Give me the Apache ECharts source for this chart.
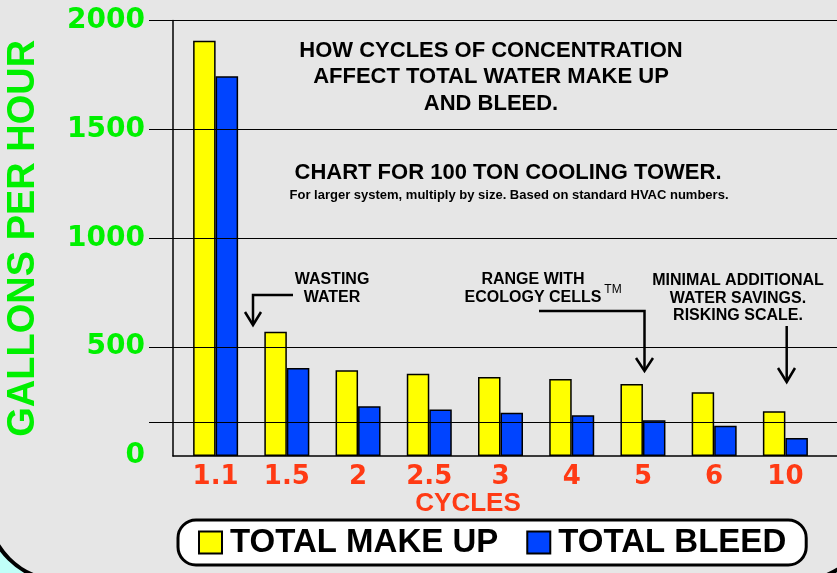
<!DOCTYPE html>
<html>
<head>
<meta charset="utf-8">
<title>Cycles of concentration</title>
<script src="https://cdn.jsdelivr.net/npm/echarts@6/dist/echarts.min.js"></script>
<style>
  html, body { margin: 0; padding: 0; background: #c0fff8; }
  #main { width: 837px; height: 573px; }
</style>
</head>
<body>
<div id="main"></div>
<script>
// values (gallons per hour, 100 ton tower)
var cycles = ['1.1', '1.5', '2', '2.5', '3', '4', '5', '6', '10']
var makeUp = [1907, 571, 394, 378, 363, 354, 331, 293, 205]
var bleed = [1744, 404, 228, 213, 199, 187, 164, 139, 83]
var seriesNames = ['TOTAL MAKE UP', 'TOTAL BLEED']
var yMin = 0
var yMax = 2000
var yStep = 500
var extraLine = 155

var green = '#00f000'
var red = '#ff3a14'
var ink = '#000'
var arial = '"Liberation Sans", Arial, sans-serif'
var heavy = '"DejaVu Sans", sans-serif'

function txt (s, x, y, size, weight, color) {
  return {
    type: 'text',
    z: 100,
    style: {
      text: s,
      x: x,
      y: y,
      fill: color || ink,
      align: 'center',
      verticalAlign: 'middle',
      font: (weight || 'bold') + ' ' + size + 'px ' + arial
    }
  }
}

function line (points) {
  return {
    type: 'polyline',
    z: 100,
    shape: { points: points },
    style: { stroke: ink, lineWidth: 2.5, fill: null }
  }
}

var myChart = echarts.init(document.getElementById('main'))

var gridBox = { top: 20.5, bottom: 117, outerBoundsMode: 'none' }

myChart.setOption({
  backgroundColor: '#c0fff8',
  animation: false,
  grid: [
    Object.assign({ left: 180, right: 16 }, gridBox), // bars
    Object.assign({ left: 149, right: -20 }, gridBox), // grid lines and labels
    Object.assign({ left: 173, right: -20 }, gridBox) // axis lines
  ],
  xAxis: [
    {
      gridIndex: 0,
      type: 'category',
      data: cycles,
      axisLine: { show: false },
      axisTick: { show: false },
      axisLabel: {
        color: red,
        fontFamily: heavy,
        fontWeight: 'bold',
        fontSize: 26,
        margin: 8
      }
    },
    { gridIndex: 1, type: 'value', min: 0, max: 1, show: false },
    {
      gridIndex: 2,
      type: 'value',
      min: 0,
      max: 1,
      z: 10,
      axisLine: { show: true, lineStyle: { color: ink, width: 1.5 } },
      axisTick: { show: false },
      axisLabel: { show: false },
      splitLine: { show: false }
    }
  ],
  yAxis: [
    { gridIndex: 0, type: 'value', min: yMin, max: yMax, interval: yStep, show: false },
    {
      gridIndex: 1,
      type: 'value',
      min: yMin,
      max: yMax,
      interval: yStep,
      z: 10,
      axisLine: { show: false },
      axisTick: { show: false },
      splitLine: {
        show: true,
        lineStyle: { color: ['rgba(0,0,0,0)', ink, ink, ink, ink], width: 1.2 }
      },
      axisLabel: {
        color: green,
        fontFamily: heavy,
        fontWeight: 'bold',
        fontSize: 28,
        margin: 4,
        formatter: function (v) { return String(v) }
      },
      name: 'GALLONS PER HOUR',
      nameLocation: 'middle',
      nameGap: 106,
      nameTextStyle: {
        color: green,
        fontFamily: arial,
        fontWeight: 'bold',
        fontSize: 38
      }
    },
    {
      gridIndex: 2,
      type: 'value',
      min: yMin,
      max: yMax,
      interval: yStep,
      z: 10,
      axisLine: { show: true, lineStyle: { color: ink, width: 1.5 } },
      axisTick: { show: false },
      axisLabel: { show: false },
      splitLine: { show: false }
    }
  ],
  legend: {
    data: seriesNames,
    left: 178,
    top: 520,
    icon: 'rect',
    itemWidth: 23,
    itemHeight: 22,
    itemGap: 28,
    backgroundColor: '#fff',
    borderColor: '#000',
    borderWidth: 3,
    borderRadius: 18,
    padding: [6, 20, 6, 20],
    textStyle: {
      color: '#000',
      fontFamily: arial,
      fontWeight: 'bold',
      fontSize: 33,
      padding: [0, 0, 0, 3]
    }
  },
  series: [
    {
      name: seriesNames[0],
      type: 'bar',
      xAxisIndex: 0,
      yAxisIndex: 0,
      barWidth: 22.5,
      barGap: '0%',
      itemStyle: { color: '#ffff00', borderColor: ink, borderWidth: 1.5 },
      data: makeUp
    },
    {
      name: seriesNames[1],
      type: 'bar',
      xAxisIndex: 0,
      yAxisIndex: 0,
      barWidth: 22.5,
      barGap: '0%',
      itemStyle: { color: '#0044ff', borderColor: ink, borderWidth: 1.5 },
      data: bleed
    },
    {
      // unlabeled reference line near the bottom
      name: 'guide',
      type: 'line',
      xAxisIndex: 1,
      yAxisIndex: 1,
      z: 10,
      symbol: 'none',
      lineStyle: { opacity: 0 },
      data: [[0, 0]],
      markLine: {
        silent: true,
        symbol: 'none',
        label: { show: false },
        lineStyle: { color: ink, width: 1.2, type: 'solid' },
        data: [{ yAxis: extraLine }]
      }
    }
  ],
  graphic: [
    {
      type: 'rect',
      z: -100,
      shape: { x: -12, y: -100, width: 884, height: 680, r: 72 },
      style: { fill: '#e6e6e6', stroke: '#000', lineWidth: 4 }
    },
    txt('HOW CYCLES OF CONCENTRATION', 491, 51, 22),
    txt('AFFECT TOTAL WATER MAKE UP', 491, 77, 22),
    txt('AND BLEED.', 491, 104, 22),
    txt('CHART FOR 100 TON COOLING TOWER.', 508, 173, 22),
    txt('For larger system, multiply by size. Based on standard HVAC numbers.', 509, 195, 13),
    txt('CYCLES', 468, 504, 26, 'bold', red),
    txt('WASTING', 332, 280, 16),
    txt('WATER', 332, 298, 16),
    txt('RANGE WITH', 533, 280, 16),
    txt('ECOLOGY CELLS', 533, 298, 16),
    txt('TM', 613, 290, 12, 'normal'),
    txt('MINIMAL ADDITIONAL', 738, 281, 16),
    txt('WATER SAVINGS.', 738, 298.5, 16),
    txt('RISKING SCALE.', 738, 316, 16),
    line([[293, 295], [253, 295], [253, 324]]),
    line([[245, 312], [253, 325], [261, 312]]),
    line([[539, 311], [644.5, 311], [644.5, 370]]),
    line([[636, 358], [644.5, 371], [653, 358]]),
    line([[786.7, 326], [786.7, 381]]),
    line([[778, 368], [786.7, 382], [795, 368]])
  ]
})
</script>
</body>
</html>
